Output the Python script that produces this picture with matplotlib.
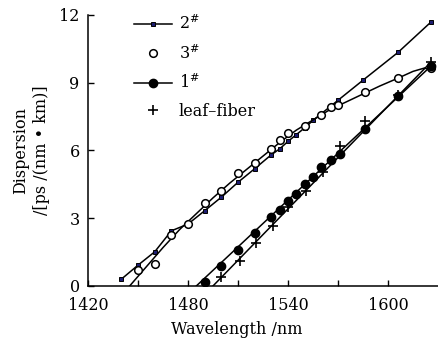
import matplotlib
matplotlib.use("Agg")
import matplotlib.pyplot as plt
from matplotlib.lines import Line2D

plt.rcParams['font.family'] = 'DejaVu Serif'
plt.rcParams['mathtext.fontset'] = 'dejavuserif'

# 2# fiber (squares, connected)
x2 = [1440, 1450, 1460, 1470, 1480, 1490, 1500, 1510, 1520, 1530, 1535, 1540, 1545, 1550, 1555, 1570, 1585, 1606, 1626]
y2 = [0.30, 0.92, 1.51, 2.44, 2.74, 3.33, 3.93, 4.59, 5.19, 5.81, 6.07, 6.40, 6.70, 7.00, 7.33, 8.22, 9.11, 10.34, 11.70]

# 3# fiber (open circles) and its fitted curve
x3 = [1450, 1460, 1470, 1480, 1490, 1500, 1510, 1520, 1530, 1535, 1540, 1550, 1560, 1566, 1570, 1586, 1606, 1626]
y3 = [0.71, 0.99, 2.25, 2.74, 3.68, 4.19, 4.99, 5.44, 6.07, 6.47, 6.78, 7.10, 7.56, 7.92, 8.00, 8.59, 9.21, 9.63]
fit3_x = [1445, 1455, 1465, 1475, 1485, 1495, 1505, 1515, 1525, 1535, 1545, 1555, 1565, 1575, 1585, 1595, 1606, 1615, 1622, 1627]
fit3_y = [0.0, 0.85, 1.70, 2.50, 3.20, 3.90, 4.55, 5.15, 5.75, 6.35, 6.90, 7.35, 7.80, 8.15, 8.50, 8.85, 9.20, 9.50, 9.65, 9.50]

# 1# fiber (filled circles) and its fitted line
x1 = [1490, 1500, 1510, 1520, 1530, 1535, 1540, 1545, 1550, 1555, 1560, 1566, 1571, 1586, 1606, 1626]
y1 = [0.19, 0.89, 1.60, 2.33, 3.04, 3.38, 3.78, 4.07, 4.52, 4.81, 5.26, 5.56, 5.85, 6.96, 8.40, 9.75]
fit1_x = [1485, 1626]
fit1_y = [0.0, 9.75]

# leaf-fiber (plus) and its fitted line
xl = [1500, 1511, 1521, 1531, 1540, 1551, 1561, 1571, 1586, 1606, 1626]
yl = [0.40, 1.11, 1.88, 2.67, 3.48, 4.22, 5.04, 6.18, 7.30, 8.47, 9.93]
fitl_x = [1495, 1626]
fitl_y = [0.0, 9.93]

fig = plt.figure(figsize=(4.38, 3.47), dpi=100)
ax = fig.add_axes([0.201, 0.176, 0.799, 0.781])

lw = 1.1
fs = 11.5
ax.plot(x2, y2, '-', color='k', lw=lw, marker='s', ms=3.3, mfc='#1c1c70', mec='k', mew=0.7)
ax.plot(fit3_x, fit3_y, '-', color='k', lw=lw)
ax.plot(x3, y3, 'o', ms=5.5, mfc='white', mec='k', mew=1.1)
ax.plot(fit1_x, fit1_y, '-', color='k', lw=lw)
ax.plot(x1, y1, 'o', ms=6, mfc='k', mec='k')
ax.plot(fitl_x, fitl_y, '-', color='k', lw=lw)
ax.plot(xl, yl, '+', ms=7.5, mec='k', mew=1.2)

ax.set_xlim(1420, 1630)
ax.set_ylim(0, 12)
ax.set_xticks([1420, 1480, 1540, 1600])
ax.set_xticks([1450, 1510, 1570], minor=True)
ax.set_yticks([0, 3, 6, 9, 12])
ax.tick_params(which='both', direction='in', length=4, width=1, labelsize=fs)
ax.tick_params(axis='x', pad=8)
ax.tick_params(axis='y', pad=6)
ax.spines['top'].set_visible(False)
ax.spines['right'].set_visible(False)
ax.spines['left'].set_linewidth(1.1)
ax.spines['bottom'].set_linewidth(1.1)

ax.set_xlabel('Wavelength /nm', fontsize=fs)
ax.xaxis.set_label_coords(0.425, -0.13)
ax.set_ylabel('Dispersion\n/[ps /(nm • km)]', fontsize=fs, linespacing=1.25)
ax.yaxis.set_label_coords(-0.11, 0.5)

handles = [
    Line2D([], [], color='k', lw=lw, marker='s', ms=3.3, mfc='#1c1c70', mec='k', mew=0.7),
    Line2D([], [], ls='none', marker='o', ms=5.5, mfc='white', mec='k', mew=1.1),
    Line2D([], [], color='k', lw=lw, marker='o', ms=6, mfc='k', mec='k'),
    Line2D([], [], ls='none', marker='+', ms=7.5, mec='k', mew=1.2),
]
labels = ['2$^{\\#}$', '3$^{\\#}$', '1$^{\\#}$', 'leaf–fiber']
ax.legend(handles, labels, loc='upper left', bbox_to_anchor=(0.09, 1.055), frameon=False,
          fontsize=fs, handlelength=2.4, handletextpad=0.4, labelspacing=0.68)

fig.savefig('out.png', dpi=100)
